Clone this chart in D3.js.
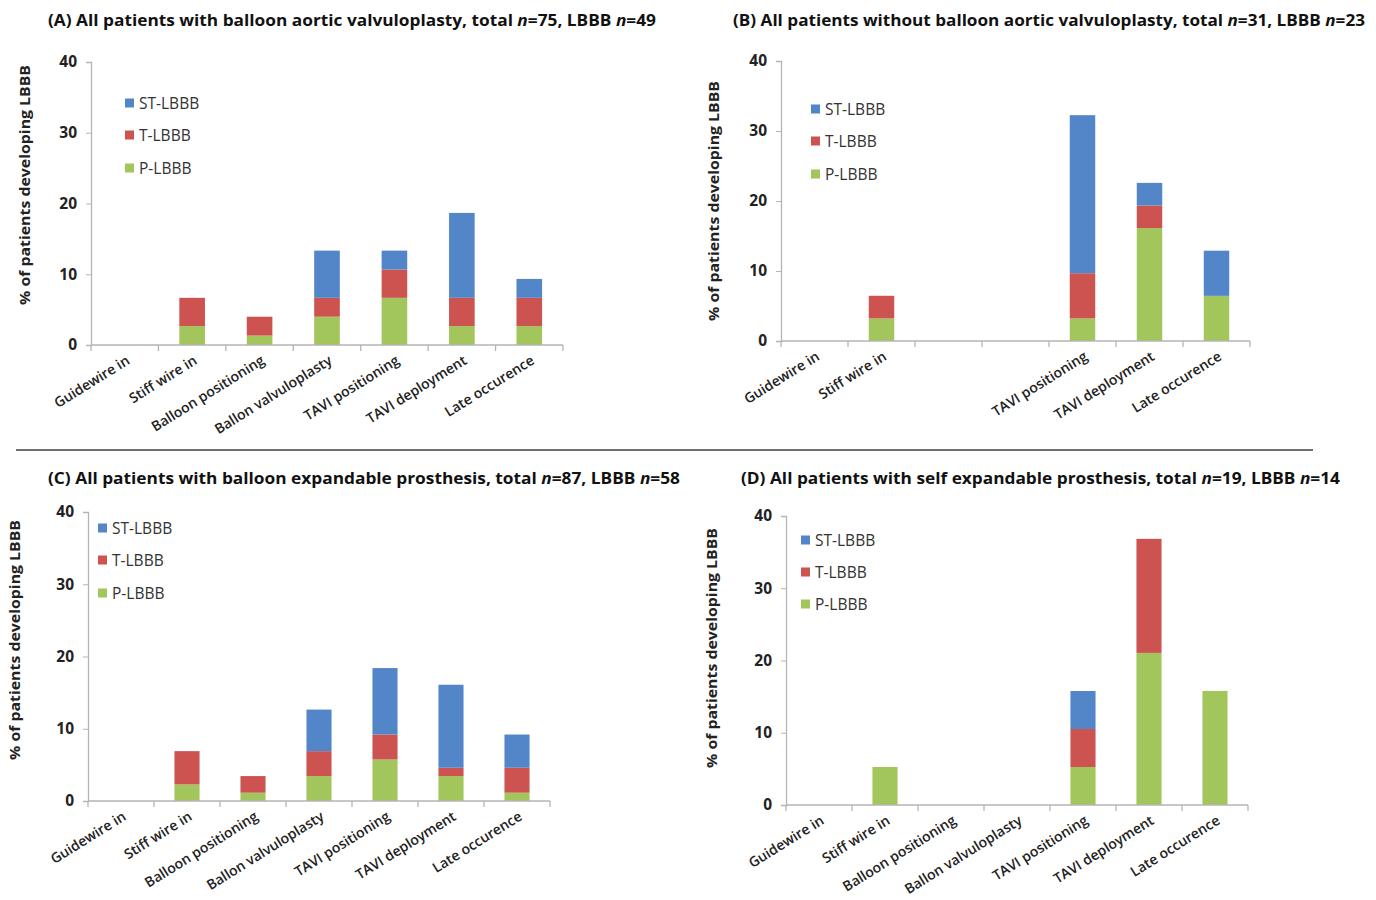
<!DOCTYPE html>
<html><head><meta charset="utf-8">
<script src="https://cdn.jsdelivr.net/npm/d3@7/dist/d3.min.js"></script>
<style>body{margin:0;background:#fff;} text{font-family:"Open Sans","Noto Sans",sans-serif;}</style>
</head><body>
<svg id="chart" width="1376" height="900"></svg>
<script>
const categories = ["Guidewire in","Stiff wire in","Balloon positioning","Ballon valvuloplasty","TAVI positioning","TAVI deployment","Late occurence"];
const categoriesB = ["Guidewire in","Stiff wire in","","","TAVI positioning","TAVI deployment","Late occurence"];
const seriesNames = ["P-LBBB","T-LBBB","ST-LBBB"];
const legendOrder = ["ST-LBBB","T-LBBB","P-LBBB"];
const yTicks = [0,10,20,30,40];

// Panel A: n=75
const aP  = [0, 2.67, 1.33, 4.00, 6.67, 2.67, 2.67];
const aT  = [0, 4.00, 2.67, 2.67, 4.00, 4.00, 4.00];
const aST = [0, 0, 0, 6.67, 2.67, 12.00, 2.67];
// Panel B: n=31
const bP  = [0, 3.23, 0, 0, 3.23, 16.13, 6.45];
const bT  = [0, 3.23, 0, 0, 6.45, 3.23, 0];
const bST = [0, 0, 0, 0, 22.58, 3.23, 6.45];
// Panel C: n=87
const cP  = [0, 2.30, 1.15, 3.45, 5.75, 3.45, 1.15];
const cT  = [0, 4.60, 2.30, 3.45, 3.45, 1.15, 3.45];
const cST = [0, 0, 0, 5.75, 9.20, 11.49, 4.60];
// Panel D: n=19
const dP  = [0, 5.26, 0, 0, 5.26, 21.05, 15.79];
const dT  = [0, 0, 0, 0, 5.26, 15.79, 0];
const dST = [0, 0, 0, 0, 5.26, 0, 0];

const titles = [
  ["(A) All patients with balloon aortic valvuloplasty, total ", "n", "=75, LBBB ", "n", "=49"],
  ["(B) All patients without balloon aortic valvuloplasty, total ", "n", "=31, LBBB ", "n", "=23"],
  ["(C) All patients with balloon expandable prosthesis, total ", "n", "=87, LBBB ", "n", "=58"],
  ["(D) All patients with self expandable prosthesis, total ", "n", "=19, LBBB ", "n", "=14"]
];
const yLabel = "% of patients developing LBBB";

const colors = {"P-LBBB":"#a2c65b","T-LBBB":"#cc5350","ST-LBBB":"#5286c8"};

const svg = d3.select("#chart");

const panels = [
  {labels:categories, P:aP, T:aT, ST:aST, title:titles[0], tx:48, tw:608, ty:26,
   x0:91, x1:563, y0:345, y40:62, legX:125, legY:[103,135,168], ylx:30, yly:185},
  {labels:categoriesB, P:bP, T:bT, ST:bST, title:titles[1], tx:733, tw:632, ty:26,
   x0:781, x1:1250, y0:341, y40:61, legX:811, legY:[109,141,174], ylx:719, yly:201},
  {labels:categories, P:cP, T:cT, ST:cST, title:titles[2], tx:48, tw:632, ty:484,
   x0:88, x1:550, y0:801, y40:512, legX:98, legY:[528,560,593], ylx:20, yly:640},
  {labels:categories, P:dP, T:dT, ST:dST, title:titles[3], tx:741, tw:599, ty:484,
   x0:786, x1:1248, y0:805, y40:516, legX:801, legY:[540,572,604], ylx:717, yly:648}
];

panels.forEach(p => {
  const g = svg.append("g");
  // title
  const t = g.append("text").attr("x", p.tx).attr("y", p.ty)
    .attr("font-size", 15.5).attr("font-weight", 700).attr("fill", "#111")
    .attr("textLength", p.tw).attr("lengthAdjust", "spacingAndGlyphs");
  p.title.forEach((s, i) => {
    t.append("tspan").text(s).attr("font-style", s === "n" ? "italic" : "normal");
  });

  const x = d3.scaleBand().domain(d3.range(categories.length))
    .range([p.x0, p.x1]).paddingInner(0.62).paddingOuter(0.31);
  const y = d3.scaleLinear().domain([0, 40]).range([p.y0, p.y40]);

  const rows = categories.map((c, i) => ({i, "P-LBBB":p.P[i], "T-LBBB":p.T[i], "ST-LBBB":p.ST[i]}));
  const stacked = d3.stack().keys(seriesNames)(rows);

  g.selectAll("g.series").data(stacked).join("g")
    .attr("fill", d => colors[d.key])
    .selectAll("rect").data(d => d.filter(v => v[1] - v[0] > 0)).join("rect")
    .attr("x", d => x(d.data.i))
    .attr("width", x.bandwidth())
    .attr("y", d => y(d[1]))
    .attr("height", d => y(d[0]) - y(d[1]));

  // y axis
  const yAxis = g.append("g").attr("transform", `translate(${p.x0},0)`)
    .call(d3.axisLeft(y).tickValues(yTicks).tickSize(5).tickPadding(9));
  yAxis.select(".domain").attr("stroke", "#b5b5b5").attr("stroke-width", 1.3);
  yAxis.selectAll(".tick line").attr("stroke", "#b5b5b5");
  yAxis.selectAll(".tick text").attr("font-size", 15.5).attr("font-weight", 700)
    .attr("fill", "#222").attr("font-family", '"Open Sans",sans-serif');

  // x axis (category boundary ticks)
  const step = x.step();
  const xAxis = g.append("g");
  xAxis.append("line").attr("x1", p.x0).attr("x2", p.x1).attr("y1", p.y0).attr("y2", p.y0)
    .attr("stroke", "#b5b5b5").attr("stroke-width", 1.3);
  xAxis.selectAll("line.tk").data(d3.range(categories.length + 1)).join("line")
    .attr("class", "tk")
    .attr("x1", i => p.x0 + i * step).attr("x2", i => p.x0 + i * step)
    .attr("y1", p.y0).attr("y2", p.y0 + 6).attr("stroke", "#b5b5b5").attr("stroke-width", 1.3);
  xAxis.selectAll("text").data(p.labels.map((l, i) => ({l, i}))).join("text")
    .attr("transform", d => `translate(${x(d.i) + x.bandwidth() / 2 + 6},${p.y0 + 18}) rotate(-32)`)
    .attr("text-anchor", "end").attr("font-size", 14).attr("font-weight", 600).attr("fill", "#222")
    .text(d => d.l);

  // y label
  g.append("text").attr("transform", `translate(${p.ylx},${p.yly}) rotate(-90)`)
    .attr("text-anchor", "middle").attr("font-size", 15).attr("font-weight", 700)
    .attr("textLength", 240).attr("lengthAdjust", "spacingAndGlyphs")
    .attr("fill", "#222").text(yLabel);

  // legend
  legendOrder.forEach((k, i) => {
    g.append("rect").attr("x", p.legX).attr("y", p.legY[i] - 4.5).attr("width", 9).attr("height", 9)
      .attr("fill", colors[k]);
    g.append("text").attr("x", p.legX + 14).attr("y", p.legY[i] + 5.5)
      .attr("font-size", 15.5).attr("fill", "#333").text(k);
  });
});

// separator line
svg.append("line").attr("x1", 16).attr("x2", 1313).attr("y1", 450).attr("y2", 450)
  .attr("stroke", "#6f6f6f").attr("stroke-width", 2);
</script>
</body></html>
